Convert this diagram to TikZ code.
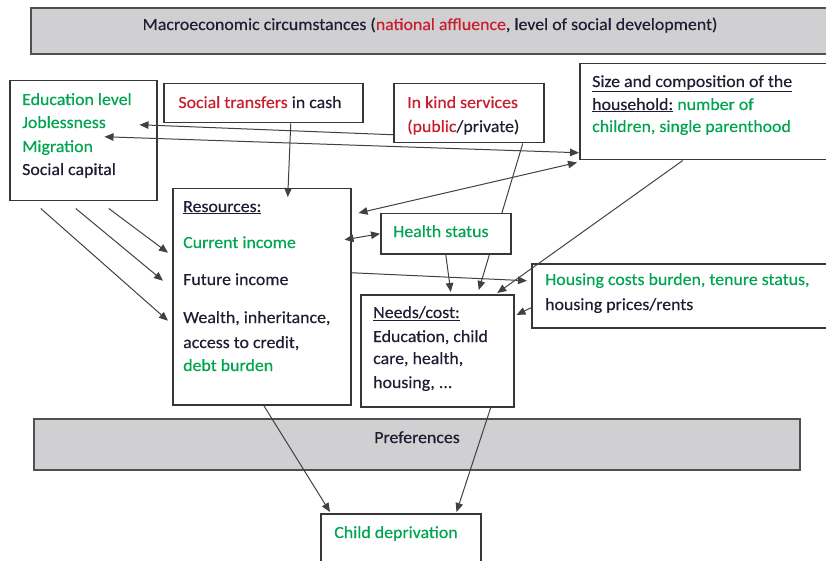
\documentclass[tikz,border=0pt]{standalone}
\usepackage{fontspec}
\setmainfont{Carlito}[FakeStretch=1.05,FakeBold=0.35]
\usetikzlibrary{arrows.meta}

\definecolor{ink}{RGB}{30,30,50}
\definecolor{txtgreen}{RGB}{0,165,80}
\definecolor{txtred}{RGB}{200,30,45}
\definecolor{frame}{RGB}{55,55,55}
\definecolor{barframe}{RGB}{80,80,80}
\definecolor{barfill}{RGB}{208,207,209}
\definecolor{wire}{RGB}{65,65,65}

\begin{document}
\begin{tikzpicture}[x=1pt,y=-1pt,
  font=\fontsize{17}{20}\selectfont,
  box/.style={draw=frame,line width=1.5pt,fill=white,inner sep=0pt,anchor=north west},
  bar/.style={box,draw=barframe,line width=2pt,fill=barfill},
  txt/.style={anchor=west,inner sep=0pt,text height=1em,text depth=0pt,text=ink},
  link/.style={draw=wire,line width=1pt,-{Triangle[length=9pt,width=7.5pt]}},
  both/.style={link,{Triangle[length=9pt,width=7.5pt]}-{Triangle[length=9pt,width=7.5pt]}}]

\useasboundingbox (0,0) rectangle (826,561);
\clip (0,0) rectangle (826,561);

% frames
\node[bar,minimum width=810,minimum height=46] (macro) at (30,7) {};
\node[box,minimum width=147,minimum height=120] (factors) at (9,80) {};
\node[box,minimum width=199,minimum height=39] (transfers) at (163,83) {};
\node[box,minimum width=150,minimum height=59] (inkind) at (393,83) {};
\node[box,minimum width=261,minimum height=96] (household) at (579,63) {};
\node[box,minimum width=178,minimum height=216] (resources) at (172,188) {};
\node[box,minimum width=309,minimum height=64] (housing) at (531,263) {};
\node[box,minimum width=153,minimum height=112] (needs) at (360,294) {};
\node[bar,minimum width=766,minimum height=51] (prefs) at (33,418) {};
\node[box,minimum width=160,minimum height=90] (childdep) at (320,513) {};

% texts
\node[txt,anchor=center] (macrotxt) at (430,25)
  {Macroeconomic circumstances ({\color{txtred}national affluence}, level of social development)};
\node[txt,text=txtgreen] (educ) at (22,100) {Education level};
\node[txt,text=txtgreen] (jobless) at (22,123) {Joblessness};
\node[txt,text=txtgreen] (migr) at (22,147) {Migration};
\node[txt] (social) at (22,170) {Social capital};
\node[txt,anchor=center] (cash) at (260,103) {{\color{txtred}Social transfers} in cash};
\node[txt,text=txtred] (inkind1) at (407,103) {In kind services};
\node[txt,text=txtred] (inkind2) at (407,127) {(public{\color{ink}/private)}};
\node[txt] (hh1) at (592,82) {\underline{Size and composition of the}};
\node[txt] (hh2) at (592,105) {\underline{household:} {\color{txtgreen}number of}};
\node[txt,text=txtgreen] (hh3) at (592,127) {children, single parenthood};
\node[txt] (res0) at (183,207) {\underline{Resources:}};
\node[txt,text=txtgreen] (res1) at (183,243) {Current income};
\node[txt] (res2) at (183,280) {Future income};
\node[txt] (res3) at (183,318) {Wealth, inheritance,};
\node[txt] (res4) at (183,343) {access to credit,};
\node[txt,text=txtgreen] (res5) at (183,366) {debt burden};
\node[txt,text=txtgreen] (hous1) at (545,280) {Housing costs burden, tenure status,};
\node[txt] (hous2) at (545,305) {housing prices/rents};
\node[txt] (need0) at (373,313) {\underline{Needs/cost:}};
\node[txt] (need1) at (373,337) {Education, child};
\node[txt] (need2) at (373,359) {care, health,};
\node[txt] (need3) at (373,383) {housing, ...};
\node[txt,anchor=center] (preftxt) at (417,438) {Preferences};
\node[txt,anchor=center,text=txtgreen] (deprtxt) at (396,533) {Child deprivation};

% arrows
\draw[link] ([xshift=27.5pt]transfers.south) -- ([xshift=26pt,yshift=-9pt]resources.north);
\draw[link] ([yshift=-21.5pt]inkind.west) -- ([xshift=-18pt,yshift=16pt]factors.east);
\draw[both] ([xshift=-53pt,yshift=4pt]factors.east) -- ([yshift=-41pt]household.west);
\draw[both] ([xshift=7pt,yshift=-25pt]resources.north east) -- ([xshift=-2pt,yshift=-2pt]household.south west);
\draw[link] ([xshift=-27.5pt]household.south) -- ([xshift=60pt,yshift=1pt]needs.north);
\draw[link] ([xshift=54pt]inkind.south) -- ([xshift=41.5pt,yshift=4pt]needs.north);
\draw[link] ([yshift=24pt]resources.east) -- ([xshift=-4pt,yshift=15pt]housing.west);
\draw[link] ([yshift=-12pt]housing.west) -- ([xshift=2pt,yshift=-21pt]needs.north east);
\draw[link] ([xshift=25.5pt,yshift=-7pt]factors.south) -- ([xshift=-4pt,yshift=44pt]resources.west);
\draw[link] ([xshift=-7.5pt,yshift=-7pt]factors.south) -- ([xshift=-9pt,yshift=16pt]resources.west);
\draw[link] ([xshift=-42.5pt,yshift=-7pt]factors.south) -- ([xshift=-4pt,yshift=-24pt]resources.west);
\draw[link] ([xshift=2pt]resources.south) -- ([xshift=10pt,yshift=1pt]childdep.north west);
\draw[link] ([xshift=53.5pt]needs.south) -- ([xshift=-25pt,yshift=1pt]childdep.north east);

% health status sits over the in-kind line
\node[box,minimum width=130,minimum height=40] (health) at (380,213) {};
\node[txt,text=txtgreen] (healthtxt) at (393,232) {Health status};
\draw[link] (health.south) -- ([xshift=13.5pt,yshift=2pt]needs.north);
\draw[both] ([xshift=-7pt,yshift=57pt]resources.east) -- (health.west);
\end{tikzpicture}
\end{document}
